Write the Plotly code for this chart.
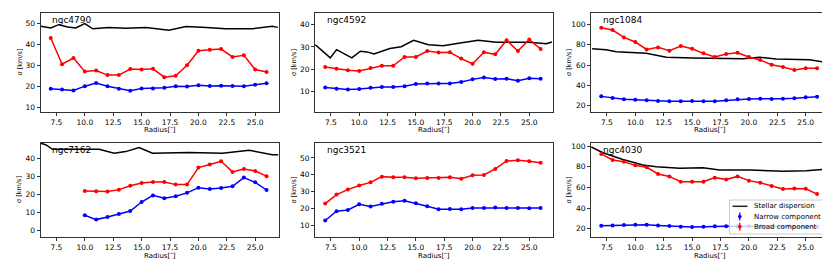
import plotly.graph_objects as go

W, H = 830, 260

radius = list(range(7, 27))
radius_7162 = list(range(10, 27))

names = ["ngc4790", "ngc4592", "ngc1084", "ngc7162", "ngc3521", "ngc4030"]
legend_labels = ["Stellar dispersion", "Narrow component", "Broad component"]
x_title = "Radius[″]"
y_title = "σ [km/s]"

# Narrow (blue) component
narrow_4790 = [18.7, 18.4, 17.9, 20.0, 21.5, 20.0, 18.8, 17.8, 18.9, 18.9, 19.2, 19.9, 19.8, 20.4, 20.1, 20.2, 20.1, 20.0, 20.7, 21.4]
narrow_4592 = [11.9, 11.3, 11.0, 11.2, 11.8, 12.1, 12.1, 12.4, 13.4, 13.7, 13.7, 13.7, 14.3, 15.5, 16.3, 15.7, 15.8, 14.9, 16.0, 15.8]
narrow_1084 = [28.9, 27.3, 26.0, 25.6, 25.0, 24.3, 24.0, 24.0, 24.3, 24.0, 24.0, 25.0, 26.0, 26.3, 26.6, 26.3, 26.6, 27.0, 28.0, 28.6]
narrow_7162 = [8.2, 5.8, 7.3, 8.9, 10.6, 15.6, 19.3, 17.7, 18.8, 20.7, 23.6, 22.9, 23.4, 24.4, 29.2, 26.6, 22.3]
narrow_3521 = [12.8, 18.3, 19.1, 22.5, 21.1, 22.7, 23.9, 24.5, 23.1, 21.3, 19.5, 19.7, 19.5, 20.3, 20.3, 20.5, 20.3, 20.3, 20.1, 20.3]
narrow_4030 = [22.9, 23.2, 23.5, 23.9, 23.9, 23.2, 22.6, 21.9, 21.6, 21.9, 22.3, 22.3, 22.3, 22.3, 22.2, 22.0, 21.9, 21.8, 21.8, 21.9]

# Broad (red) component
broad_4790 = [43.1, 30.5, 33.5, 27.0, 27.5, 25.3, 25.3, 28.2, 28.0, 28.3, 24.3, 25.0, 30.0, 37.0, 37.5, 37.8, 34.0, 34.8, 28.0, 26.8]
broad_4592 = [21.0, 20.3, 19.6, 19.3, 20.6, 21.6, 21.6, 25.5, 25.5, 28.2, 27.5, 27.6, 24.8, 22.5, 27.6, 26.7, 33.0, 28.2, 33.3, 29.1]
broad_1084 = [97.0, 94.7, 87.4, 82.8, 75.5, 77.5, 74.2, 78.8, 76.2, 71.6, 67.9, 70.9, 72.2, 67.9, 65.0, 60.3, 58.0, 55.0, 56.7, 56.7]
broad_7162 = [21.8, 21.6, 21.4, 22.5, 24.7, 26.2, 26.8, 26.8, 25.3, 25.3, 34.8, 36.5, 38.3, 32.4, 34.0, 32.9, 30.0]
broad_3521 = [22.9, 28.2, 31.2, 33.6, 35.5, 38.9, 38.5, 38.5, 37.9, 38.1, 38.1, 38.5, 37.7, 39.7, 39.9, 43.5, 48.2, 48.6, 48.0, 47.2]
broad_4030 = [92.3, 86.5, 84.8, 81.3, 79.4, 72.9, 70.6, 65.5, 65.5, 65.5, 69.4, 67.7, 70.6, 66.5, 64.5, 61.3, 58.4, 59.0, 58.7, 53.5]

# Stellar dispersion (black)
star_r_4790 = [6.13, 7.0, 7.7, 8.5, 9.2, 10.0, 10.7, 12.1, 13.6, 15.4, 17.4, 18.9, 20.7, 22.4, 24.8, 26.5, 27.0]
star_4790 = [48.7, 47.9, 49.5, 48.4, 47.9, 50.0, 47.5, 48.1, 47.8, 48.1, 46.8, 48.6, 48.1, 47.5, 47.6, 48.7, 48.2]
star_r_4592 = [6.13, 7.45, 8.0, 9.35, 10.1, 10.7, 11.3, 12.7, 13.7, 14.8, 16.1, 17.4, 18.9, 20.5, 22.1, 25.0, 26.5, 27.0]
star_4592 = [31.0, 25.1, 28.8, 25.1, 28.1, 27.8, 26.9, 29.3, 30.1, 33.0, 31.0, 30.5, 31.8, 33.0, 32.1, 32.1, 31.4, 32.2]
star_r_1084 = [6.2, 7.44, 8.32, 9.5, 10.08, 10.96, 11.85, 12.73, 15.07, 18.0, 19.48, 20.95, 22.41, 25.35, 26.8, 27.1]
star_1084 = [76.2, 75.2, 73.2, 72.6, 71.6, 71.6, 69.6, 67.6, 67.0, 66.3, 66.3, 67.6, 66.0, 65.3, 62.6, 62.0]
star_r_7162 = [6.13, 6.6, 7.15, 9.5, 11.26, 12.58, 13.6, 14.78, 15.96, 19.19, 22.12, 24.47, 26.5, 27.05]
star_7162 = [48.4, 47.4, 45.0, 45.0, 45.0, 42.8, 43.7, 46.0, 42.8, 43.2, 42.8, 44.5, 41.9, 41.9]
star_r_4030 = [6.12, 7.15, 8.91, 10.67, 11.85, 13.9, 15.96, 17.42, 20.07, 23.0, 25.06, 26.5, 27.05]
star_4030 = [99.0, 93.5, 87.0, 81.6, 80.0, 78.4, 79.0, 76.8, 76.8, 75.5, 76.1, 77.4, 77.1]

panels = [
    (names[0], radius, narrow_4790, broad_4790, star_r_4790, star_4790, [7.6, 55.1], 10),
    (names[1], radius, narrow_4592, broad_4592, star_r_4592, star_4592, [0.9, 45.2], 10),
    (names[2], radius, narrow_1084, broad_1084, star_r_1084, star_1084, [13.4, 111.6], 20),
    (names[3], radius_7162, narrow_7162, broad_7162, star_r_7162, star_7162, [-3.9, 48.5], 10),
    (names[4], radius, narrow_3521, broad_3521, None, None, [3.0, 58.9], 10),
    (names[5], radius, narrow_4030, broad_4030, star_r_4030, star_4030, [12.0, 102.9], 20),
]

col_px = [(32.5, 270.5), (307, 544.5), (583, 821)]
row_px = [(5, 104), (135, 229)]
col_dom = [[a / W, b / W] for a, b in col_px]
row_dom = [[1 - b / H, 1 - a / H] for a, b in row_px]
xtitle_y = [121.5, 247.5]
ytitle_x = [11, 285.5, 560.5]

fig = go.Figure()
FONT = "DejaVu Sans"
annotations = []
shapes = []


def px(x):
    return x / W


def py(y):
    return 1 - y / H


for i, (nm, rr, nar, brd, sr, sv, yr, dt) in enumerate(panels):
    k = i + 1
    xa = "x" if k == 1 else f"x{k}"
    ya = "y" if k == 1 else f"y{k}"
    row, col = divmod(i, 3)
    if sr is not None:
        fig.add_trace(go.Scatter(x=sr, y=sv, mode="lines", line=dict(color="black", width=1.5),
                                 name=legend_labels[0], showlegend=False, xaxis=xa, yaxis=ya))
    fig.add_trace(go.Scatter(x=rr, y=nar, mode="lines+markers", line=dict(color="blue", width=1.5),
                             marker=dict(size=4, color="blue"), name=legend_labels[1],
                             showlegend=False, xaxis=xa, yaxis=ya))
    fig.add_trace(go.Scatter(x=rr, y=brd, mode="lines+markers", line=dict(color="red", width=1.5),
                             marker=dict(size=4, color="red"), name=legend_labels[2],
                             showlegend=False, xaxis=xa, yaxis=ya))
    axcommon = dict(showline=True, mirror=True, linecolor="#333333", linewidth=1, ticks="outside",
                    ticklen=3, tickwidth=1, tickcolor="#333333", showgrid=False, zeroline=False,
                    tickfont=dict(family=FONT, size=7.5, color="black"))
    xkey = "xaxis" if k == 1 else f"xaxis{k}"
    ykey = "yaxis" if k == 1 else f"yaxis{k}"
    fig.layout[xkey] = dict(domain=col_dom[col], anchor=ya, range=[6.1, 27.05], tick0=7.5, dtick=2.5,
                            tickformat=".1f", **axcommon)
    fig.layout[ykey] = dict(domain=row_dom[row], anchor=xa, range=yr, tick0=0, dtick=dt, **axcommon)
    annotations.append(dict(text=nm, xref=f"{xa} domain", yref=f"{ya} domain", x=0.045, y=0.985,
                            xanchor="left", yanchor="top", showarrow=False, borderpad=0,
                            font=dict(family=FONT, size=9, color="black")))
    cx = (col_px[col][0] + col_px[col][1]) / 2
    annotations.append(dict(text=x_title, xref="paper", yref="paper", x=px(cx), y=py(xtitle_y[row]),
                            xanchor="center", yanchor="middle", showarrow=False, borderpad=0,
                            font=dict(family=FONT, size=7, color="black")))
    cy = (row_px[row][0] + row_px[row][1]) / 2
    annotations.append(dict(text=y_title, xref="paper", yref="paper", x=px(ytitle_x[col]), y=py(cy),
                            xanchor="center", yanchor="middle", textangle=-90, showarrow=False, borderpad=0,
                            font=dict(family=FONT, size=6.5, color="black")))

# Custom legend (matplotlib style) in the lower-right panel
lx0, lx1, ly0, ly1 = 721.5, 819, 192, 226
shapes.append(dict(type="rect", xref="paper", yref="paper", x0=px(lx0), x1=px(lx1), y0=py(ly1), y1=py(ly0),
                   line=dict(color="#cccccc", width=1), fillcolor="rgba(255,255,255,0.8)", layer="above"))
item_y = [198.3, 208.5, 218.7]
shapes.append(dict(type="line", xref="paper", yref="paper", x0=px(724.5), x1=px(739.5), y0=py(item_y[0]),
                   y1=py(item_y[0]), line=dict(color="#222222", width=1.5), layer="above"))
for yy, c in zip(item_y[1:], ["blue", "red"]):
    shapes.append(dict(type="line", xref="paper", yref="paper", x0=px(731.8), x1=px(731.8), y0=py(yy - 4),
                       y1=py(yy + 4), line=dict(color=c, width=1.2), layer="above"))
    shapes.append(dict(type="circle", xref="paper", yref="paper", x0=px(730.2), x1=px(733.4), y0=py(yy + 1.6),
                       y1=py(yy - 1.6), line=dict(color=c, width=0.5), fillcolor=c, layer="above"))
for yy, lab in zip(item_y, legend_labels):
    annotations.append(dict(text=lab, xref="paper", yref="paper", x=px(744.5), y=py(yy), xanchor="left",
                            yanchor="middle", showarrow=False, borderpad=0,
                            font=dict(family=FONT, size=7, color="black")))

fig.update_layout(
    width=W, height=H, margin=dict(l=0, r=0, t=0, b=0),
    paper_bgcolor="white", plot_bgcolor="white",
    annotations=annotations, shapes=shapes, showlegend=False,
)

fig.write_html("out.html")
